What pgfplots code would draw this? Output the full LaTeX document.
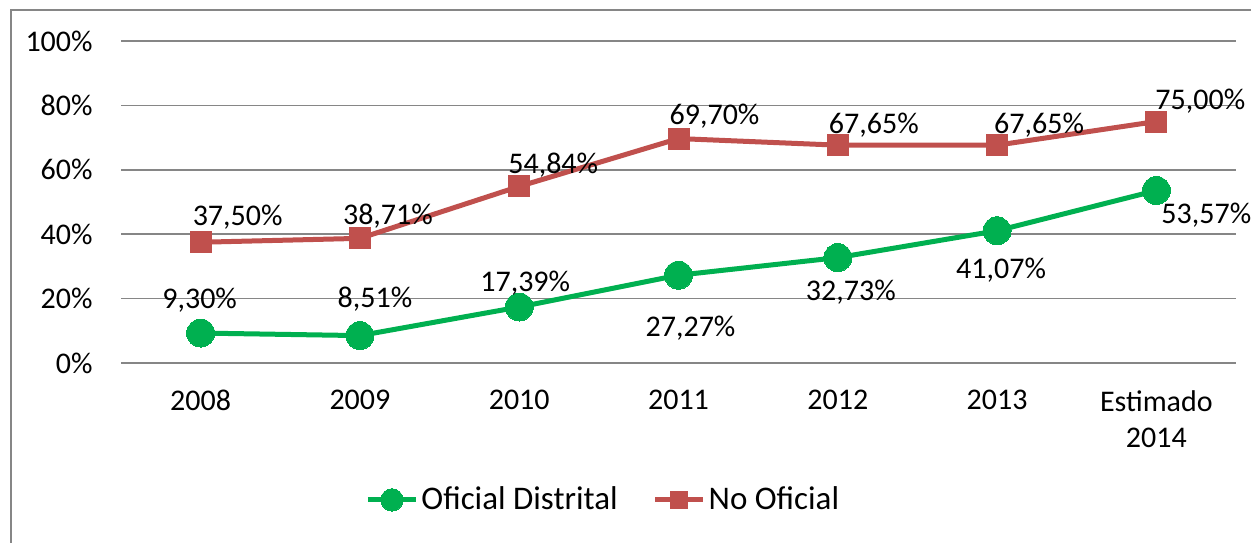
\documentclass[border=0pt]{standalone}
\usepackage{pgfplots}
\usepackage{pgfplotstable}
\pgfplotsset{compat=1.18}
\usepackage{fontspec}
\setmainfont{Carlito}
\definecolor{cgreen}{HTML}{00B050}
\definecolor{cred}{HTML}{C0504D}
\definecolor{cgrid}{HTML}{868686}

\pgfplotstableread{
x y dx dy
0 9.30 -0.5 16.5
1 8.51 7.5 18
2 17.39 3 12
3 27.27 6 -26.5
4 32.73 6.5 -17.5
5 41.07 2 -19.5
6 53.57 25 -12.5
}\greendata

\pgfplotstableread{
x y dx dy
0 37.50 18.5 12.5
1 38.71 14 11
2 54.84 17 10.5
3 69.70 18 11
4 67.65 18 10
5 67.65 21 10
6 75.00 22 10
}\reddata

\begin{document}
\begin{tikzpicture}[x=1pt,y=1pt]
\path[use as bounding box] (0,0) rectangle (625.5,271);
\draw[cgrid, line width=1pt] (5.5,-5) -- (5.5,266) -- (640,266);
\begin{axis}[
  at={(60.5pt,89.5pt)}, anchor=south west,
  scale only axis, width=557.5pt, height=161pt,
  xmin=-0.5, xmax=6.5, ymin=0, ymax=100,
  clip=false,
  axis line style={draw=none},
  major tick length=0pt,
  ymajorgrids,
  grid style={cgrid, line width=0.8pt},
  xtick={0,...,6},
  xticklabels={2008,2009,2010,2011,2012,2013,{Estimado\\2014}},
  xticklabel style={align=center, inner sep=0pt, anchor=north, yshift=-13.5pt, font=\fontsize{15}{18}\selectfont},
  ytick={0,20,...,100},
  yticklabel={\pgfmathprintnumber{\tick}\%},
  yticklabel style={inner sep=0pt, anchor=east, xshift=-14pt, font=\fontsize{15}{17}\selectfont},
  /pgf/number format/assume math mode=true,
  legend style={at={(0.433,-0.425)}, anchor=center, draw=none, fill=none,
    font=\fontsize{16.5}{19}\selectfont,
    /tikz/every even column/.append style={column sep=16pt},
    nodes={inner sep=1.5pt}},
  legend columns=2,
  legend image code/.code={\draw[mark repeat=2,mark phase=2,every mark/.append style={scale=0.8}] plot coordinates {(0pt,0pt)(12pt,0pt)(24pt,0pt)};},
  nodes near coords={\pgfmathprintnumber[fixed,fixed zerofill,precision=2,use comma,assume math mode=true]{\pgfplotspointmeta}\%},
  point meta=y,
]
\addplot[cgreen, line width=2.5pt, mark=*, mark size=7pt, mark options={fill=cgreen, draw=cgreen, line width=0pt},
  visualization depends on={\thisrow{dx}\as\dx},
  visualization depends on={\thisrow{dy}\as\dy},
  every node near coord/.append style={black, anchor=center, xshift=\dx pt, yshift=\dy pt, font=\fontsize{15}{18}\selectfont}]
  table[x=x,y=y] {\greendata};
\addlegendentry{Oficial Distrital}
\addplot[cred, line width=2.5pt, mark=square*, mark size=5.25pt, mark options={fill=cred, draw=cred, line width=0pt},
  visualization depends on={\thisrow{dx}\as\dx},
  visualization depends on={\thisrow{dy}\as\dy},
  every node near coord/.append style={black, anchor=center, xshift=\dx pt, yshift=\dy pt, font=\fontsize{15}{18}\selectfont}]
  table[x=x,y=y] {\reddata};
\addlegendentry{No Oficial}
\end{axis}
\end{tikzpicture}
\end{document}
